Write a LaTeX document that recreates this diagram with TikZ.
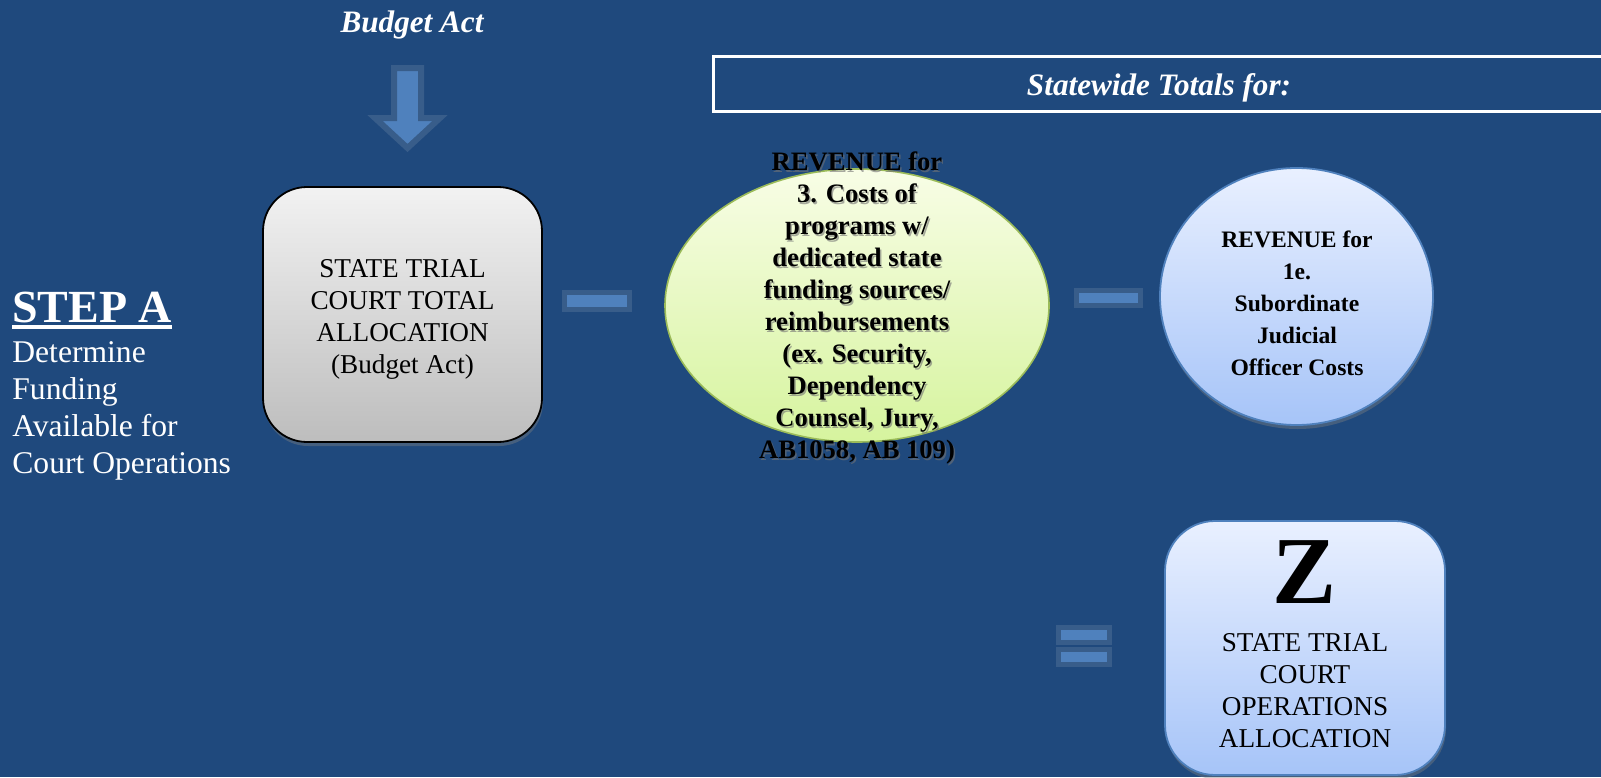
\documentclass[tikz,border=0pt]{standalone}
\usepackage{fontspec}
\setmainfont{Liberation Serif}
\usetikzlibrary{shapes.geometric, shadows}

\definecolor{slide}{HTML}{1F497D}
\definecolor{accent}{HTML}{4F81BD}
\definecolor{accentline}{HTML}{385D8A}
\definecolor{greytop}{HTML}{F2F2F2}
\definecolor{greybot}{HTML}{BDBDBD}
\definecolor{limetop}{HTML}{F8FDE6}
\definecolor{limebot}{HTML}{D6F49E}
\definecolor{limeline}{HTML}{9BBB59}
\definecolor{icetop}{HTML}{E9F0FF}
\definecolor{icebot}{HTML}{A6C4F8}

\begin{document}
\begin{tikzpicture}[x=0.5pt,y=-0.5pt,inner sep=0pt]
		\tikzstyle{shade}=[drop shadow={shadow xshift=0.5pt,shadow yshift=-2pt,opacity=0.4}]
		\tikzstyle{greybox}=[rectangle,draw=black,line width=0.9pt,rounded corners=22pt,shading=axis,top color=greytop,bottom color=greybot,shade]
		\tikzstyle{icebox}=[rectangle,draw=accent,line width=0.9pt,rounded corners=25pt,shading=axis,top color=icetop,bottom color=icebot,shade]
		\tikzstyle{iceround}=[ellipse,draw=accent,line width=0.9pt,shading=axis,top color=icetop,bottom color=icebot,shade]
		\tikzstyle{limeround}=[ellipse,draw=limeline,line width=0.8pt,shading=axis,top color=limetop,bottom color=limebot]
		\tikzstyle{signbar}=[rectangle,fill=accent,draw=accentline,line width=2.5pt]
		\tikzstyle{plain}=[font=\fontsize{13.6}{16}\selectfont,align=center]
		\tikzstyle{heavy}=[font=\fontsize{13.3}{16}\selectfont\bfseries,align=center]
		\tikzstyle{heavysmall}=[font=\fontsize{11.8}{16}\selectfont\bfseries,align=center]
		\tikzstyle{headline}=[anchor=base,text=white,font=\fontsize{15.6}{18}\selectfont\bfseries\itshape]
		
		% background
		\fill[slide] (0,0) rectangle (1601,777);
		\useasboundingbox (0,0) rectangle (1601,777);
		
		% left hand text
		\node[anchor=base west,text=white,font=\fontsize{23}{28}\selectfont\bfseries] (step_a) at (12,322)
		{\rlap{\rule[-3.5pt]{80pt}{2pt}}STEP A};
		\node[anchor=north west,text=white,align=left,font=\fontsize{15.8}{18.5}\selectfont] (step_desc) at (12,341)
		{Determine\\Funding\\Available for\\Court Operations};
		
		% budget act arrow
		\node[headline] (budget) at (412,32) {Budget Act};
		\draw[fill=accent,draw=accentline,line width=3pt]
		(394,68) -- (421,68) -- (421,118) -- (440,118) -- (407.5,148) -- (375,118) -- (394,118) -- cycle;
		
		% statewide banner
		\draw[white,line width=1.5pt] (1620,56.5) -- (713,56.5) -- (713,111.5) -- (1620,111.5);
		\node[headline] (statewide) at (1159,95) {Statewide Totals for:};
		
		% shapes
		\node[greybox,minimum width=139.5pt,minimum height=127.5pt] (total) at (402.5,314.5) {};
		\node[plain] (total_txt) at (402.5,319) {STATE TRIAL\\COURT TOTAL\\ALLOCATION\\(Budget Act)};
		
		\node[signbar,minimum width=32.5pt,minimum height=8.5pt] (minus_1) at (597,301) {};
		
		\node[limeround,minimum width=192pt,minimum height=136.5pt] (rev_3) at (857,305.5) {};
		\node[heavy,text=black!55,opacity=0.6] at (858.5,309.5) {REVENUE for\\3. Costs of\\programs w/\\dedicated state\\funding sources/\\reimbursements\\(ex. Security,\\Dependency\\Counsel, Jury,\\AB1058, AB 109)};
		\node[heavy] (rev_3_txt) at (857,308) {REVENUE for\\3. Costs of\\programs w/\\dedicated state\\funding sources/\\reimbursements\\(ex. Security,\\Dependency\\Counsel, Jury,\\AB1058, AB 109)};
		
		\node[signbar,minimum width=32pt,minimum height=7.5pt] (minus_2) at (1108.5,298) {};
		
		\node[iceround,minimum width=136.5pt,minimum height=128.5pt] (rev_1e) at (1296.5,296.5) {};
		\node[heavysmall] (rev_1e_txt) at (1297,303) {REVENUE for\\1e.\\Subordinate\\Judicial\\Officer Costs};
		
		\node[signbar,minimum width=25.5pt,minimum height=7.5pt] (eq_top) at (1084,635) {};
		\node[signbar,minimum width=25.5pt,minimum height=7.5pt] (eq_bot) at (1084,657) {};
		
		\node[icebox,minimum width=140pt,minimum height=127pt] (ops) at (1305,648) {};
		\node[anchor=base,font=\fontsize{48}{50}\selectfont\bfseries] (ops_z) at (1305,603) {Z};
		\node[plain] (ops_txt) at (1305,691) {STATE TRIAL\\COURT\\OPERATIONS\\ALLOCATION};
		
	\end{tikzpicture}
\end{document}
